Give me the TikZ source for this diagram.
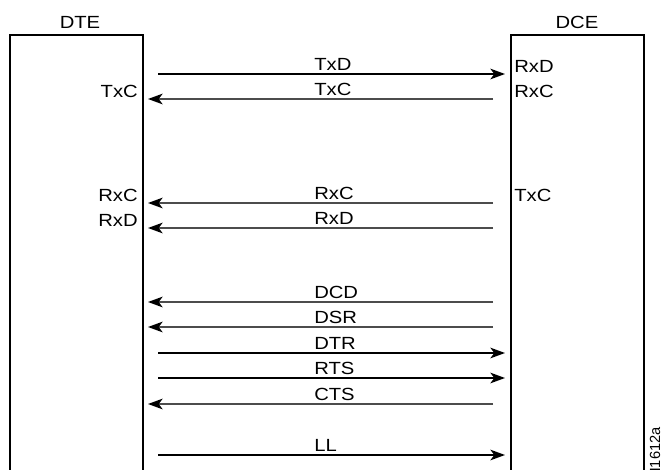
\documentclass[tikz,border=0pt]{standalone}
\usepackage{fontspec}
\setmainfont{Liberation Sans}[FakeStretch=1.15]
\newfontfamily\idfont{Liberation Sans}
\usetikzlibrary{arrows.meta}
\begin{document}
\begin{tikzpicture}[x=0.75pt,y=-0.75pt,
  font=\fontsize{13.2}{15}\selectfont,
  boxline/.style={line width=1.1pt, black},
  sig/.style={line width=1.1pt, -{Stealth[length=11pt,width=8pt,inset=3pt]}},
  sigr/.style={sig, draw=black},
  sigl/.style={sig, draw=black!70, -{Stealth[length=11pt,width=8pt,inset=3pt,fill=black,color=black]}},
  lab/.style={inner sep=0pt, anchor=base west},
  llab/.style={inner sep=0pt, anchor=base east},
  rlab/.style={inner sep=0pt, anchor=base west},
  hdr/.style={inner sep=0pt, anchor=base}]
\useasboundingbox (0,0) rectangle (665,470);
% boxes
\coordinate (dteBL) at (10,470);
\coordinate (dteTL) at (10,35);
\coordinate (dteTR) at (143,35);
\coordinate (dteBR) at (143,470);
\coordinate (dceBL) at (511,470);
\coordinate (dceTL) at (511,35);
\coordinate (dceTR) at (644,35);
\coordinate (dceBR) at (644,470);
\draw[boxline] (dteBL) -- (dteTL) -- (dteTR) -- (dteBR);
\draw[boxline] (dceBL) -- (dceTL) -- (dceTR) -- (dceBR);
\node[hdr] (dte) at (80,29) {DTE};
\node[hdr] (dce) at (577,29) {DCE};
% rightward signals
\foreach \n/\y in {txd/74, dtr/353, rts/378, ll/455}{
  \coordinate (\n a) at (158,\y);
  \coordinate (\n b) at (505,\y);
  \draw[sigr] (\n a) -- (\n b);
}
% leftward signals
\foreach \n/\y in {txc/99, rxc/203, rxd/228, dcd/302, dsr/327, cts/404}{
  \coordinate (\n a) at (493,\y);
  \coordinate (\n b) at (148,\y);
  \draw[sigl] (\n a) -- (\n b);
}
% labels over lines
\foreach \n/\t/\y in {ltxd/TxD/74, ltxc/TxC/99, lrxc/RxC/203, lrxd/RxD/228, ldcd/DCD/302, ldsr/DSR/327, ldtr/DTR/353, lrts/RTS/378, lcts/CTS/404, lll/LL/455}{
  \node[lab] (\n) at (314,\y-3) {\t};
}
% left box labels
\node[llab] (dtetxc) at (138,98) {TxC};
\node[llab] (dterxc) at (138,202) {RxC};
\node[llab] (dterxd) at (138,227) {RxD};
% right box labels
\node[rlab] (dcerxd) at (514,73) {RxD};
\node[rlab] (dcerxc) at (514,98) {RxC};
\node[rlab] (dcetxc) at (514,202) {TxC};
% figure id
\node[inner sep=0pt, rotate=90, anchor=east, font=\idfont\fontsize{11}{12}\selectfont] (fid) at (655,427) {H1612a};
\end{tikzpicture}
\end{document}
